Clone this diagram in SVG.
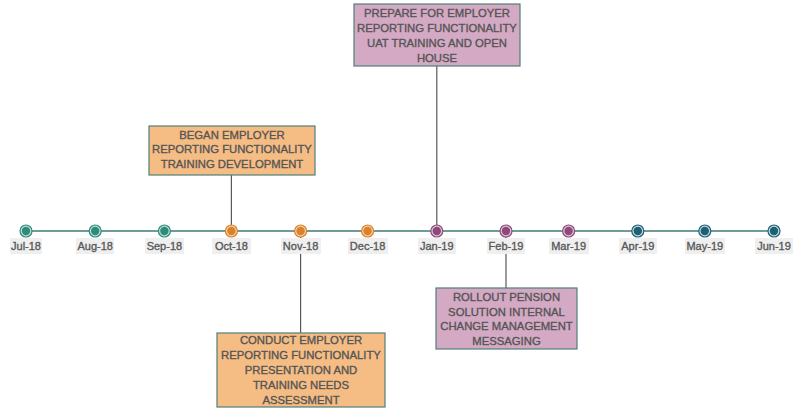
<svg xmlns="http://www.w3.org/2000/svg" width="807" height="408" viewBox="0 0 807 408">
<style>
.lbl{font-family:"Liberation Sans",Arial,sans-serif;font-size:11px;fill:#595959;stroke:#595959;stroke-width:0.35;text-anchor:middle}
.lbg{fill:#efefef}
.box{stroke:#4f7f7a;stroke-width:1.2}
.org{fill:#f5bd84}
.pur{fill:#d4a9c4}
.bt{font-family:"Liberation Sans",Arial,sans-serif;font-size:11.3px;fill:#555555;stroke:#555555;stroke-width:0.35;text-anchor:middle}
.conn{stroke:#595959;stroke-width:1.2;fill:none}
.axis{stroke:#6f9d95;stroke-width:2}
</style>
<rect width="807" height="408" fill="#ffffff"/>
<g id="connectors">
<line class="axis" x1="26" y1="231" x2="774" y2="231"/>
<line class="conn" x1="231.4" y1="175" x2="231.4" y2="226"/>
<line class="conn" x1="436.8" y1="66" x2="436.8" y2="226"/>
<line class="conn" x1="300.6" y1="236" x2="300.6" y2="333"/>
<line class="conn" x1="506" y1="236" x2="506" y2="288"/>
</g>
<g id="ticks">
<g id="m-jul18"><circle cx="26" cy="231" r="6" fill="#bfe0da" stroke="#2e8b7a" stroke-width="1.2"/><circle cx="26" cy="231" r="4.2" fill="#2e8b7a"/><rect class="lbg" x="10" y="238" width="32" height="16"/><text class="lbl" x="26" y="250">Jul-18</text></g>
<g id="m-aug18"><circle cx="95.2" cy="231" r="6" fill="#bfe0da" stroke="#2e8b7a" stroke-width="1.2"/><circle cx="95.2" cy="231" r="4.2" fill="#2e8b7a"/><rect class="lbg" x="76" y="238" width="38" height="16"/><text class="lbl" x="95.2" y="250">Aug-18</text></g>
<g id="m-sep18"><circle cx="164.4" cy="231" r="6" fill="#bfe0da" stroke="#2e8b7a" stroke-width="1.2"/><circle cx="164.4" cy="231" r="4.2" fill="#2e8b7a"/><rect class="lbg" x="145" y="238" width="39" height="16"/><text class="lbl" x="164.4" y="250">Sep-18</text></g>
<g id="m-oct18"><circle cx="231.4" cy="231" r="6" fill="#f6d0a8" stroke="#d9822b" stroke-width="1.2"/><circle cx="231.4" cy="231" r="4.2" fill="#d9822b"/><rect class="lbg" x="212" y="238" width="39" height="16"/><text class="lbl" x="231.4" y="250">Oct-18</text></g>
<g id="m-nov18"><circle cx="300.6" cy="231" r="6" fill="#f6d0a8" stroke="#d9822b" stroke-width="1.2"/><circle cx="300.6" cy="231" r="4.2" fill="#d9822b"/><rect class="lbg" x="281" y="238" width="40" height="16"/><text class="lbl" x="300.6" y="250">Nov-18</text></g>
<g id="m-dec18"><circle cx="367.6" cy="231" r="6" fill="#f6d0a8" stroke="#d9822b" stroke-width="1.2"/><circle cx="367.6" cy="231" r="4.2" fill="#d9822b"/><rect class="lbg" x="348" y="238" width="40" height="16"/><text class="lbl" x="367.6" y="250">Dec-18</text></g>
<g id="m-jan19"><circle cx="436.8" cy="231" r="6" fill="#e2c4d7" stroke="#8b4a7a" stroke-width="1.2"/><circle cx="436.8" cy="231" r="4.2" fill="#8b4a7a"/><rect class="lbg" x="418" y="238" width="38" height="16"/><text class="lbl" x="436.8" y="250">Jan-19</text></g>
<g id="m-feb19"><circle cx="506" cy="231" r="6" fill="#e2c4d7" stroke="#8b4a7a" stroke-width="1.2"/><circle cx="506" cy="231" r="4.2" fill="#8b4a7a"/><rect class="lbg" x="487" y="238" width="38" height="16"/><text class="lbl" x="506" y="250">Feb-19</text></g>
<g id="m-mar19"><circle cx="568.6" cy="231" r="6" fill="#e2c4d7" stroke="#8b4a7a" stroke-width="1.2"/><circle cx="568.6" cy="231" r="4.2" fill="#8b4a7a"/><rect class="lbg" x="549" y="238" width="40" height="16"/><text class="lbl" x="568.6" y="250">Mar-19</text></g>
<g id="m-apr19"><circle cx="637.8" cy="231" r="6" fill="#c4dbe2" stroke="#1f5f74" stroke-width="1.2"/><circle cx="637.8" cy="231" r="4.2" fill="#1f5f74"/><rect class="lbg" x="619" y="238" width="38" height="16"/><text class="lbl" x="637.8" y="250">Apr-19</text></g>
<g id="m-may19"><circle cx="704.8" cy="231" r="6" fill="#c4dbe2" stroke="#1f5f74" stroke-width="1.2"/><circle cx="704.8" cy="231" r="4.2" fill="#1f5f74"/><rect class="lbg" x="685" y="238" width="40" height="16"/><text class="lbl" x="704.8" y="250">May-19</text></g>
<g id="m-jun19"><circle cx="774" cy="231" r="6" fill="#c4dbe2" stroke="#1f5f74" stroke-width="1.2"/><circle cx="774" cy="231" r="4.2" fill="#1f5f74"/><rect class="lbg" x="755" y="238" width="38" height="16"/><text class="lbl" x="774" y="250">Jun-19</text></g>
</g>
<g id="began">
<rect class="box org" x="149" y="126" width="166" height="49"/>
<text class="bt" x="232" y="139">BEGAN EMPLOYER</text>
<text class="bt" x="232" y="153">REPORTING FUNCTIONALITY</text>
<text class="bt" x="232" y="168">TRAINING DEVELOPMENT</text>
</g>
<g id="prepare">
<rect class="box pur" x="354" y="4" width="166" height="62"/>
<text class="bt" x="437" y="17">PREPARE FOR EMPLOYER</text>
<text class="bt" x="437" y="32">REPORTING FUNCTIONALITY</text>
<text class="bt" x="437" y="47">UAT TRAINING AND OPEN</text>
<text class="bt" x="437" y="62">HOUSE</text>
</g>
<g id="conduct">
<rect class="box org" x="217" y="333" width="168" height="74"/>
<text class="bt" x="301" y="344">CONDUCT EMPLOYER</text>
<text class="bt" x="301" y="359">REPORTING FUNCTIONALITY</text>
<text class="bt" x="301" y="374">PRESENTATION AND</text>
<text class="bt" x="301" y="389">TRAINING NEEDS</text>
<text class="bt" x="301" y="404">ASSESSMENT</text>
</g>
<g id="rollout">
<rect class="box pur" x="436" y="288" width="141" height="61"/>
<text class="bt" x="506.5" y="301">ROLLOUT PENSION</text>
<text class="bt" x="506.5" y="316">SOLUTION INTERNAL</text>
<text class="bt" x="506.5" y="330">CHANGE MANAGEMENT</text>
<text class="bt" x="506.5" y="345">MESSAGING</text>
</g>
</svg>
